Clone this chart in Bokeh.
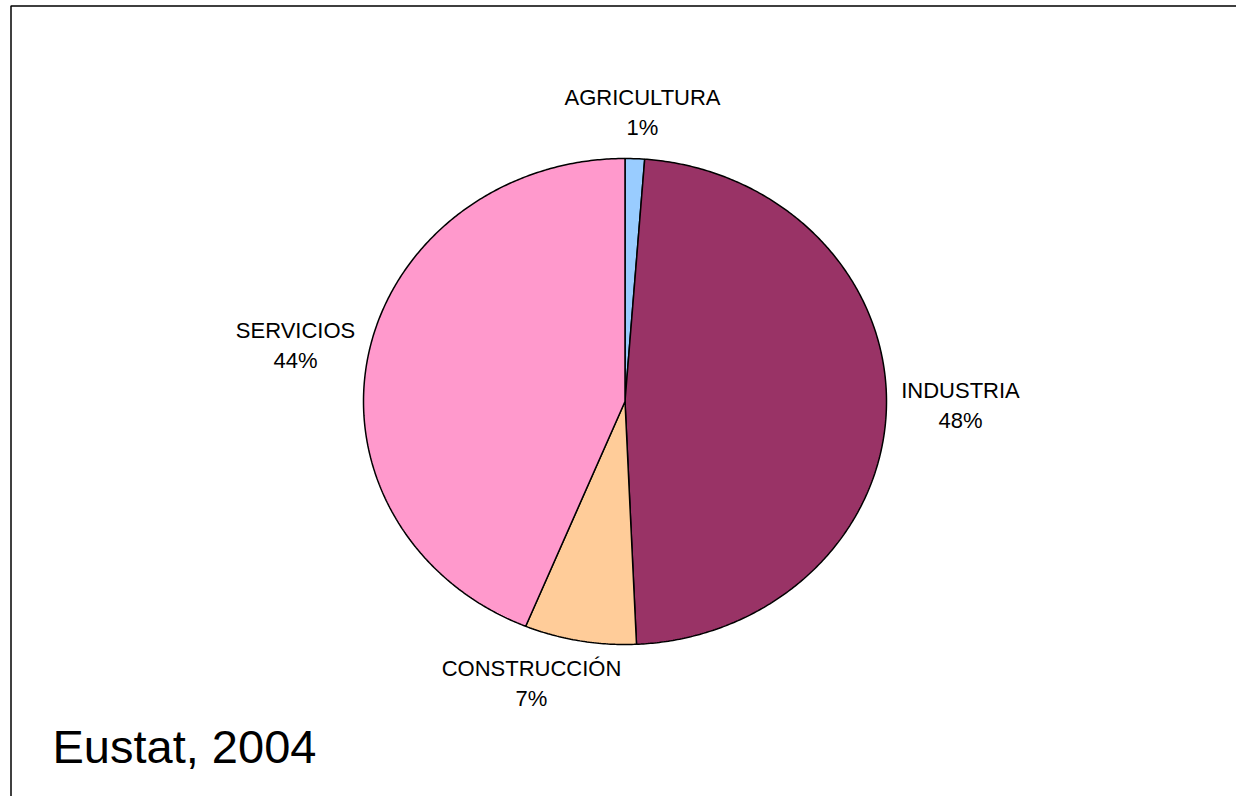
import numpy as np
from bokeh.plotting import figure
from bokeh.models import Range1d
from bokeh.core.properties import value
from bokeh.embed import file_html
from bokeh.resources import INLINE

# ---- data ----
sectors = ["AGRICULTURA", "INDUSTRIA", "CONSTRUCCIÓN", "SERVICIOS"]
shares = [1.2, 48.1, 6.9, 43.8]
colors = ["#99CCFF", "#993366", "#FFCC99", "#FF99CC"]
source_note = "Eustat, 2004"

# ---- layout ----
W, H = 1236, 796
cx, cy, rx, ry = 624.5, 401.0, 261.5, 243.0
label_pos = [(642, 112), (960, 405), (531, 683), (295, 345)]
line_gap = 30

p = figure(width=W, height=H, output_backend="svg", toolbar_location=None,
           x_range=Range1d(0, W), y_range=Range1d(H, 0), min_border=0)
p.axis.visible = False
p.grid.visible = False
p.outline_line_color = None
p.background_fill_color = "white"
p.border_fill_color = "white"

# pie slices (clockwise from 12 o'clock), elliptical
vals = np.array(shares, dtype=float)
frac = vals / vals.sum()
ends = np.cumsum(frac) * 2 * np.pi
starts = ends - frac * 2 * np.pi
xs, ys = [], []
for a0, a1 in zip(starts, ends):
    t = np.linspace(a0, a1, max(8, int((a1 - a0) / (2 * np.pi) * 720)))
    xs.append([cx] + list(cx + rx * np.sin(t)) + [cx])
    ys.append([cy] + list(cy - ry * np.cos(t)) + [cy])
p.patches(xs, ys, fill_color=colors, line_color="black", line_width=1.5)

# labels
lx = [lp[0] for lp in label_pos]
ly = [lp[1] for lp in label_pos]
pct = [f"{round(v / vals.sum() * 100)}%" for v in vals]
p.text(lx, [y - line_gap / 2 for y in ly], text=sectors,
       text_font=value("Liberation Sans"), text_font_size="22px",
       text_align="center", text_baseline="middle", text_color="black")
p.text(lx, [y + line_gap / 2 for y in ly], text=pct,
       text_font=value("Liberation Sans"), text_font_size="22px",
       text_align="center", text_baseline="middle", text_color="black")

# source note
p.text([52], [746], text=[source_note], text_font=value("Liberation Sans"),
       text_font_size="47px", text_align="left", text_baseline="middle",
       text_color="black")

# frame (top and left)
p.line([10.5, 10.5, W], [H, 5.5, 5.5], line_color="black", line_width=1.5)

open("out.html", "w").write(file_html(p, INLINE))
